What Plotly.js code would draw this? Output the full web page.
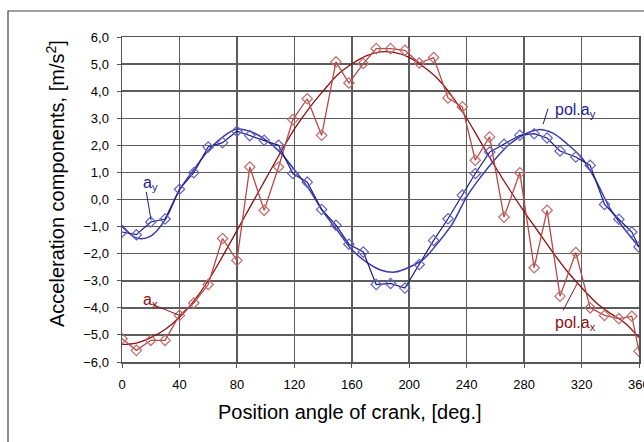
<!DOCTYPE html>
<html>
<head>
<meta charset="utf-8">
<script src="https://cdn.plot.ly/plotly-3.0.1.min.js"></script>
<style>
html,body{margin:0;padding:0;background:#fff;}
#chart{width:644px;height:442px;}
</style>
</head>
<body>
<div id="chart"></div>
<script>
// Measured points (crank angle, deg)
const angleMeasured = [0,10,20,30,40,50,60,70,80,89,99,109,119,129,139,149,158,168,177,187,197,207,217,227,237,246,256,266,277,287,296,305,316,326,336,346,355,360];
const axMeasured = [-5.14,-5.57,-5.2,-5.2,-4.28,-3.82,-3.14,-1.44,-2.25,1.2,-0.4,1.2,2.95,3.72,2.37,5.08,4.3,5.02,5.57,5.57,5.51,5.04,5.24,3.75,3.42,1.45,2.31,-0.65,0.99,-2.52,-0.4,-3.57,-1.96,-4.0,-4.28,-4.4,-4.31,-5.6];
const ayMeasured = [-1.2,-1.3,-0.83,-0.72,0.38,0.99,1.94,2.1,2.52,2.36,2.19,2.0,0.96,0.64,-0.37,-0.95,-1.65,-1.94,-3.14,-3.1,-3.27,-2.4,-1.51,-0.71,0.16,0.96,1.75,2.04,2.37,2.43,2.27,1.79,1.57,1.26,-0.18,-0.73,-1.2,-1.75];

// Polynomial fits
const anglePol = [0,10,20,30,40,50,60,70,80,90,100,110,120,130,140,150,160,170,180,190,200,210,220,230,240,250,260,270,280,290,300,310,320,330,340,350,360];
const axPol = [-5.35,-5.3,-5.1,-4.8,-4.35,-3.75,-3.0,-2.1,-1.15,-0.2,0.75,1.7,2.6,3.35,4.0,4.6,5.0,5.3,5.45,5.42,5.25,4.9,4.45,3.8,3.0,2.1,1.2,0.35,-0.45,-1.2,-1.95,-2.65,-3.25,-3.8,-4.2,-4.55,-5.1];
const ayPol = [-0.95,-1.42,-1.35,-0.75,0.35,1.1,1.8,2.3,2.6,2.5,2.2,1.75,1.1,0.4,-0.45,-1.15,-1.85,-2.3,-2.6,-2.68,-2.5,-2.2,-1.6,-0.9,0.1,0.85,1.5,2.05,2.4,2.58,2.45,2.05,1.55,0.7,-0.35,-1.1,-1.75];

const xTicks = [0,40,80,120,160,200,240,280,320,360];
const yTicks = [-6,-5,-4,-3,-2,-1,0,1,2,3,4,5,6];

const RED_M = '#b84848', RED_P = '#8c1010', BLUE_M = '#1c1c8c', BLUE_P = '#3a3aa8';

const traces = [
  {x: anglePol, y: axPol, mode: 'lines', line: {color: RED_P, width: 1.3, shape: 'spline'}, hoverinfo: 'skip'},
  {x: anglePol, y: ayPol, mode: 'lines', line: {color: BLUE_P, width: 1.5, shape: 'spline'}, hoverinfo: 'skip'},
  {x: angleMeasured, y: axMeasured, mode: 'lines+markers', line: {color: RED_M, width: 1.3},
   marker: {symbol: 'diamond-open', size: 8, color: '#c06a6a', line: {width: 1.2}}},
  {x: angleMeasured, y: ayMeasured, mode: 'lines+markers', line: {color: BLUE_M, width: 1.2},
   marker: {symbol: 'diamond-open', size: 8, color: '#6262c4', line: {width: 1.2}}}
];

const FONT = 'Liberation Sans, Arial, sans-serif';
const layout = {
  width: 644, height: 442,
  margin: {l: 122, r: 5, t: 37, b: 80},
  paper_bgcolor: '#fff', plot_bgcolor: '#fff',
  showlegend: false,
  separators: ', ',
  font: {family: FONT, color: '#000', size: 13},
  xaxis: {
    range: [0, 360], tickvals: xTicks, ticks: 'outside', ticklen: 4, tickcolor: '#555',
    showgrid: true, gridcolor: '#5c5c5c', gridwidth: 1.5,
    showline: true, linecolor: '#555', linewidth: 1.5, mirror: true,
    zeroline: false, ticklabelstandoff: 6, tickfont: {size: 13, family: FONT}
  },
  yaxis: {
    range: [-6, 6], tickvals: yTicks, tickformat: '.1f', ticks: 'outside', ticklen: 4, tickcolor: '#555',
    showgrid: true, gridcolor: '#5c5c5c', gridwidth: 1.5,
    showline: true, linecolor: '#555', linewidth: 1.5, mirror: true,
    zeroline: false, ticklabelstandoff: 5, tickfont: {size: 13, family: FONT}
  },
  shapes: [
    {type: 'rect', xref: 'paper', yref: 'paper', x0: -0.2205, x1: 1.05, y0: -0.35, y1: 1.08,
     line: {color: '#444', width: 1.2}, fillcolor: 'rgba(0,0,0,0)', layer: 'below'},
    {type: 'line', xref: 'x', yref: 'y', x0: 16.9, y0: 0.28, x1: 20.3, y1: -0.77, line: {color: BLUE_M, width: 1}},
    {type: 'line', xref: 'x', yref: 'y', x0: 21.0, y0: -3.87, x1: 40.1, y1: -4.28, line: {color: RED_P, width: 1}},
    {type: 'line', xref: 'x', yref: 'y', x0: 296.7, y0: 3.36, x1: 293.2, y1: 2.78, line: {color: BLUE_M, width: 1}},
    {type: 'line', xref: 'x', yref: 'y', x0: 307.2, y0: -4.09, x1: 317, y1: -3.1, line: {color: RED_P, width: 1}}
  ],
  annotations: [
    {text: 'Acceleration components, [m/s<sup>2</sup>]', xref: 'paper', yref: 'paper',
     x: (55 - 122) / 517, y: (362 - 184) / 325, xanchor: 'center', yanchor: 'middle',
     textangle: -90, showarrow: false, font: {size: 20, family: FONT, color: '#000'}},
    {text: 'Position angle of crank, [deg.]', xref: 'paper', yref: 'paper',
     x: (350 - 122) / 517, y: (362 - 412) / 325, xanchor: 'center', yanchor: 'middle',
     showarrow: false, font: {size: 20, family: FONT, color: '#000'}},
    {text: String(xTicks[xTicks.length - 1]), xref: 'x', yref: 'paper', x: xTicks[xTicks.length - 1],
     y: (362 - 384) / 325, xanchor: 'center', yanchor: 'middle',
     showarrow: false, font: {size: 13, family: FONT, color: '#000'}},
    {text: 'a<sub>y</sub>', xref: 'x', yref: 'y', x: 12.9, y: 0.6, xanchor: 'left', yanchor: 'middle',
     showarrow: false, font: {size: 16, family: FONT, color: BLUE_M}},
    {text: 'a<sub>x</sub>', xref: 'x', yref: 'y', x: 12.9, y: -3.72, xanchor: 'left', yanchor: 'middle',
     showarrow: false, font: {size: 16, family: FONT, color: RED_P}},
    {text: 'pol.a<sub>y</sub>', xref: 'x', yref: 'y', x: 300, y: 3.29, xanchor: 'left', yanchor: 'middle',
     showarrow: false, font: {size: 16, family: FONT, color: BLUE_M}},
    {text: 'pol.a<sub>x</sub>', xref: 'x', yref: 'y', x: 299.8, y: -4.57, xanchor: 'left', yanchor: 'middle',
     showarrow: false, font: {size: 16, family: FONT, color: RED_P}}
  ]
};

Plotly.newPlot('chart', traces, layout, {staticPlot: true, displayModeBar: false});
</script>
</body>
</html>
